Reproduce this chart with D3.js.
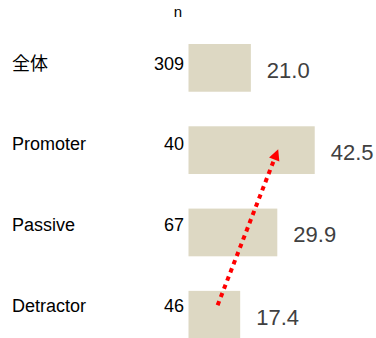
<!DOCTYPE html>
<html>
<head>
<meta charset="utf-8">
<script src="https://cdn.jsdelivr.net/npm/d3@7"></script>
<style>
  html, body { margin: 0; padding: 0; background: #fff; }
  svg { display: block; }
  text { font-family: "Liberation Sans", Arial, sans-serif; }
</style>
</head>
<body>
<svg id="chart" width="376" height="338"></svg>
<script>
// Segments, sample sizes and scores
const categories = ["全体", "Promoter", "Passive", "Detractor"];
const counts = [309, 40, 67, 46];
const scores = [21.0, 42.5, 29.9, 17.4];
const countHeader = "n";

// Trend arrow: runs from the Detractor bar up to the Promoter bar (score units)
const arrowFrom = { category: "Detractor", value: 9.8 };
const arrowTo = { category: "Promoter", value: 30.2 };

const rows = categories.map((c, i) => ({ category: c, n: counts[i], score: scores[i] }));

const svg = d3.select("#chart");
const W = 376, H = 338;

// Bars
const x = d3.scaleLinear().domain([0, 50]).range([188.5, 337]);
const y = d3.scaleBand().domain(categories).range([44, 338.6]).paddingInner(0.42).paddingOuter(0);
// Baselines for the row text (labels and n)
const rowText = d3.scalePoint().domain(categories).range([69.5, 311.7]);

svg.append("g")
  .selectAll("rect")
  .data(rows)
  .join("rect")
  .attr("x", x(0))
  .attr("y", d => y(d.category))
  .attr("width", d => x(d.score) - x(0))
  .attr("height", y.bandwidth())
  .attr("fill", "#DDD8C3");

// Category labels
svg.append("g")
  .selectAll("text")
  .data(rows)
  .join("text")
  .attr("x", 12)
  .attr("y", d => rowText(d.category))
  .attr("font-size", 18)
  .attr("fill", "#000")
  .style("font-family", d => /[^\x00-\x7F]/.test(d.category)
    ? "'Noto Sans CJK JP', 'Liberation Sans', sans-serif" : null)
  .text(d => d.category);

// n column
svg.append("text")
  .attr("x", 178)
  .attr("y", 17)
  .attr("text-anchor", "middle")
  .attr("font-size", 15)
  .attr("fill", "#000")
  .text(countHeader);

svg.append("g")
  .selectAll("text")
  .data(rows)
  .join("text")
  .attr("x", 184)
  .attr("y", d => rowText(d.category))
  .attr("text-anchor", "end")
  .attr("font-size", 18)
  .attr("fill", "#000")
  .text(d => d.n);

// Score labels
svg.append("g")
  .selectAll("text")
  .data(rows)
  .join("text")
  .attr("x", d => x(d.score) + 16)
  .attr("y", d => y(d.category) + y.bandwidth() / 2 + 9.8)
  .attr("font-size", 22)
  .attr("fill", "#404040")
  .text(d => d3.format(".1f")(d.score));

// Dotted red arrow
const p0 = [x(arrowFrom.value), y(arrowFrom.category) + y.bandwidth() / 2 - 9.5];
const p1 = [x(arrowTo.value), y(arrowTo.category) + y.bandwidth() / 2 - 1];
const dx = p1[0] - p0[0], dy = p1[1] - p0[1];
const len = Math.hypot(dx, dy);
const ux = dx / len, uy = dy / len;
const headLen = 11, headHalf = 5.5;
const base = [p1[0] - ux * headLen, p1[1] - uy * headLen];

svg.append("line")
  .attr("x1", p0[0]).attr("y1", p0[1])
  .attr("x2", base[0] + ux * 1).attr("y2", base[1] + uy * 1)
  .attr("stroke", "#FF0000")
  .attr("stroke-width", 4)
  .attr("stroke-dasharray", "4.4 4.4");

svg.append("path")
  .attr("d", d3.line()([
    p1,
    [base[0] - uy * headHalf, base[1] + ux * headHalf],
    [base[0] + uy * headHalf, base[1] - ux * headHalf]
  ]) + "Z")
  .attr("fill", "#FF0000");
</script>
</body>
</html>
